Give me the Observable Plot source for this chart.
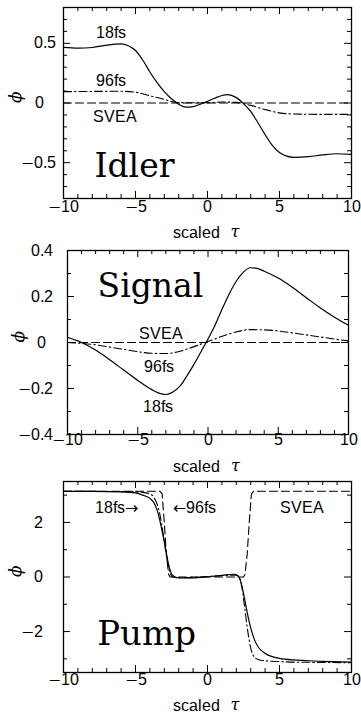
<!DOCTYPE html>
<html><head><meta charset="utf-8">
<script src="https://cdn.jsdelivr.net/npm/d3@7"></script>
<script src="https://cdn.jsdelivr.net/npm/@observablehq/plot@0.6"></script>
<style>
@font-face { font-family: "FigSans"; src: local("DejaVu Sans"), local("DejaVuSans"); unicode-range: U+2190-21FF, U+2212; }
@font-face { font-family: "FigSans"; src: local("Liberation Sans"), local("LiberationSans"), local("LiberationSans-Regular"); unicode-range: U+0000-218F, U+2200-2211, U+2213-FFFF; }
body{margin:0;background:#fff}
#c{width:361px}
#c svg{display:block}
</style>
</head><body><div id="c"></div>
<script>
// ---------- shared axis data ----------
const xTickValues = [-10, -5, 0, 5, 10];
const xTickLabels = ["−10", "−5", "0", "5", "10"];
const xMinorTicks = [-9, -8, -7, -6, -4, -3, -2, -1, 1, 2, 3, 4, 6, 7, 8, 9];
const xMajorTicks = [-5, 0, 5];

// ---------- Idler ----------
const idler18_t   = [-10, -9, -8, -7, -6, -5.5, -5, -4.5, -4, -3.5, -3, -2.5, -2, -1.5, -1, -0.5, 0, 0.5, 1, 1.4, 2, 2.5, 3, 3.5, 4, 4.5, 5, 5.5, 6, 7, 8, 9, 10];
const idler18_phi = [0.466, 0.46, 0.465, 0.485, 0.495, 0.48, 0.44, 0.36, 0.26, 0.17, 0.095, 0.035, -0.01, -0.035, -0.03, -0.01, 0.015, 0.04, 0.063, 0.07, 0.045, -0.005, -0.07, -0.165, -0.265, -0.355, -0.415, -0.445, -0.455, -0.45, -0.435, -0.425, -0.43];
const idler96_t   = [-10, -8, -6, -5, -4, -3, -2.5, -2, -1, 0, 1, 2, 3, 4, 5, 6, 8, 10];
const idler96_phi = [0.095, 0.097, 0.098, 0.09, 0.06, 0.03, 0.012, 0.004, 0.002, 0.003, 0.008, 0.005, -0.02, -0.055, -0.083, -0.092, -0.095, -0.095];
const idlerSvea_t   = [-10, 10];
const idlerSvea_phi = [0, 0];
const idlerYTickValues = [-0.5, 0, 0.5];
const idlerYTickLabels = ["−0.5", "0", "0.5"];
const idlerYMinor = [-0.7, -0.6, -0.4, -0.3, -0.2, -0.1, 0.1, 0.2, 0.3, 0.4, 0.6, 0.7];
const idlerYMajor = [-0.5, 0, 0.5];

// ---------- Signal ----------
const signal18_t   = [-10, -9.5, -9, -8, -7, -6, -5, -4, -3.5, -3, -2.5, -2, -1.5, -1, -0.5, 0, 0.5, 1, 1.5, 2, 2.5, 3, 3.5, 4, 5, 6, 7, 8, 9, 10];
const signal18_phi = [0.023, 0.012, 0.0, -0.033, -0.075, -0.12, -0.165, -0.205, -0.22, -0.226, -0.215, -0.19, -0.145, -0.095, -0.04, 0.015, 0.075, 0.145, 0.21, 0.265, 0.305, 0.325, 0.322, 0.31, 0.28, 0.24, 0.195, 0.15, 0.11, 0.075];
const signal96_t   = [-10, -9, -8, -7, -6, -5, -4, -3, -2, -1, 0, 1, 2, 3, 4, 5, 6, 7, 8, 9, 10];
const signal96_phi = [0.0, -0.004, -0.01, -0.02, -0.03, -0.04, -0.047, -0.048, -0.038, -0.018, 0.004, 0.027, 0.046, 0.056, 0.055, 0.05, 0.042, 0.033, 0.024, 0.015, 0.007];
const signalSvea_t   = [-10, 10];
const signalSvea_phi = [0, 0];
const signalYTickValues = [-0.4, -0.2, 0, 0.2, 0.4];
const signalYTickLabels = ["−0.4", "−0.2", "0", "0.2", "0.4"];
const signalYMinor = [-0.3, -0.1, 0.1, 0.3];
const signalYMajor = [-0.2, 0, 0.2];

// ---------- Pump ----------
const pump18_t   = [-10, -8, -6, -5, -4.5, -4, -3.7, -3.5, -3.3, -3.1, -2.9, -2.7, -2.5, -2.3, -2, -1, 0, 1, 1.8, 2.1, 2.3, 2.5, 2.7, 2.9, 3.1, 3.3, 3.6, 4, 4.5, 5, 6, 7, 8, 10];
const pump18_phi = [3.14, 3.14, 3.12, 3.08, 3.0, 2.88, 2.7, 2.45, 2.05, 1.55, 1.0, 0.45, 0.12, 0.02, -0.03, -0.03, 0.01, 0.06, 0.1, 0.05, -0.15, -0.6, -1.15, -1.65, -2.05, -2.35, -2.62, -2.8, -2.92, -2.98, -3.04, -3.07, -3.09, -3.12];
const pump96_t   = [-10, -6, -4.5, -4, -3.7, -3.4, -3.2, -3.0, -2.8, -2.6, -2.4, -2, 0, 1, 2, 2.2, 2.4, 2.6, 2.8, 3.0, 3.2, 3.5, 4, 5, 6, 8, 10];
const pump96_phi = [3.14, 3.13, 3.1, 3.05, 2.9, 2.5, 2.0, 1.3, 0.6, 0.15, 0.0, -0.03, 0.02, 0.05, 0.07, 0.0, -0.4, -1.2, -2.0, -2.6, -2.9, -3.02, -3.07, -3.1, -3.12, -3.13, -3.14];
const pumpSvea_t   = [-10, -3.3, -3.15, -3.0, -2.85, -2.7, -2.6, 2.5, 2.6, 2.75, 2.9, 3.05, 3.2, 10];
const pumpSvea_phi = [3.14, 3.14, 3.05, 2.0, 0.8, 0.1, 0.0, 0.0, 0.1, 0.8, 2.0, 3.05, 3.14, 3.14];
const pumpYTickValues = [-2, 0, 2];
const pumpYTickLabels = ["−2", "0", "2"];
const pumpYMinor = [-3, -1, 1, 3];
const pumpYMajor = [-2, 0, 2];

const zip = (t, p) => t.map((v, i) => ({t: v, phi: p[i]}));

const SANS = "FigSans, 'Liberation Sans', Arial, Helvetica, sans-serif";
const SERIF = "'DejaVu Serif', serif";
const INK = "#000";

function panel(cfg) {
  const fw = 361 - cfg.ml - cfg.mr;
  const fh = cfg.height - cfg.mt - cfg.mb;
  const minor = 4, major = 7;
  const tickFont = {fontFamily: SANS, fontSize: 16, fill: INK};
  const noteFont = {fontFamily: SANS, fontSize: 16, fill: INK};
  const rows = cfg.yTickValues.map((v, i) => ({v, s: cfg.yTickLabels[i]}));
  const nonZero = rows.filter(d => d.v !== 0);
  const zero = rows.filter(d => d.v === 0);
  const marks = [
    // curves
    Plot.line(zip(cfg.svea[0], cfg.svea[1]), {x: "t", y: "phi", stroke: INK, strokeWidth: 1.1, strokeDasharray: "8,4", curve: "linear"}),
    Plot.line(zip(cfg.s96[0], cfg.s96[1]), {x: "t", y: "phi", stroke: INK, strokeWidth: 1.1, strokeDasharray: "8,3,1.5,3", curve: "monotone-x"}),
    Plot.line(zip(cfg.s18[0], cfg.s18[1]), {x: "t", y: "phi", stroke: INK, strokeWidth: 1.2, curve: "monotone-x"}),
    // frame
    Plot.frame({stroke: INK, strokeWidth: 1.3}),
    // x ticks (bottom & top, inward)
    Plot.ruleX(xMinorTicks, {x: d => d, stroke: INK, insetTop: fh - minor}),
    Plot.ruleX(xMinorTicks, {x: d => d, stroke: INK, insetBottom: fh - minor}),
    Plot.ruleX(xMajorTicks, {x: d => d, stroke: INK, insetTop: fh - major}),
    Plot.ruleX(xMajorTicks, {x: d => d, stroke: INK, insetBottom: fh - major}),
    // y ticks (left & right, inward)
    Plot.ruleY(cfg.yMinor, {y: d => d, stroke: INK, insetRight: fw - minor}),
    Plot.ruleY(cfg.yMinor, {y: d => d, stroke: INK, insetLeft: fw - minor}),
    Plot.ruleY(cfg.yMajor, {y: d => d, stroke: INK, insetRight: fw - major}),
    Plot.ruleY(cfg.yMajor, {y: d => d, stroke: INK, insetLeft: fw - major}),
    // tick labels
    Plot.text(xTickValues, {x: d => d, text: (d, i) => xTickLabels[i], frameAnchor: "bottom", dy: cfg.xLabDy, ...tickFont}),
    Plot.text(nonZero, {y: "v", text: "s", frameAnchor: "left", dx: cfg.yLabDx, textAnchor: "end", ...tickFont}),
    Plot.text(zero, {y: "v", text: "s", frameAnchor: "left", dx: cfg.yZeroDx, textAnchor: "end", ...tickFont}),
    // axis titles
    Plot.text(["scaled"], {frameAnchor: "bottom", dx: 12, dy: cfg.titleDy, textAnchor: "end", ...tickFont}),
    Plot.text(["τ"], {frameAnchor: "bottom", dx: 23, dy: cfg.titleDy - 1, textAnchor: "start", fontFamily: SERIF, fontStyle: "italic", fontSize: 16, fill: INK}),
    Plot.text([0], {y: d => d, text: () => "ϕ", frameAnchor: "left", dx: cfg.phiDx, rotate: -90, fontFamily: SERIF, fontStyle: "italic", fontSize: 17, fill: INK}),
    // curve annotations
    Plot.text(cfg.notes, {x: "x", y: "y", text: "s", lineAnchor: "bottom", ...noteFont, textAnchor: cfg.noteAnchor}),
    Plot.text(cfg.notes2 || [], {x: "x", y: "y", text: "s", lineAnchor: "bottom", ...noteFont, textAnchor: "middle"}),
    // panel name
    Plot.text([cfg.name], {x: cfg.nameX, y: cfg.nameY, text: d => d, textAnchor: "start", lineAnchor: "bottom", fontFamily: SERIF, fontSize: cfg.nameSize, fill: INK})
  ];
  return Plot.plot({
    width: 361, height: cfg.height,
    marginTop: cfg.mt, marginBottom: cfg.mb, marginLeft: cfg.ml, marginRight: cfg.mr,
    x: {domain: [-10, 10], axis: null},
    y: {domain: cfg.yDomain, axis: null},
    style: {background: "#fff", overflow: "visible"},
    marks
  });
}

const panels = [
  {height: 245, mt: 7, mb: 47, ml: 63, mr: 10, yDomain: [-0.8, 0.8],
   s18: [idler18_t, idler18_phi], s96: [idler96_t, idler96_phi], svea: [idlerSvea_t, idlerSvea_phi],
   yTickValues: idlerYTickValues, yTickLabels: idlerYTickLabels, yMinor: idlerYMinor, yMajor: idlerYMajor,
   xLabDy: 13, titleDy: 39, yLabDx: -8, yZeroDx: -20, phiDx: -48,
   noteAnchor: "middle",
   notes: [{x: -6.7, y: 0.541, s: "18fs"}, {x: -6.7, y: 0.14, s: "96fs"}, {x: -6.4, y: -0.16, s: "SVEA"}],
   name: "Idler", nameX: -7.85, nameY: -0.616, nameSize: 33},
  {height: 233, mt: 5, mb: 44, ml: 67, mr: 13, yDomain: [-0.4, 0.4],
   s18: [signal18_t, signal18_phi], s96: [signal96_t, signal96_phi], svea: [signalSvea_t, signalSvea_phi],
   yTickValues: signalYTickValues, yTickLabels: signalYTickLabels, yMinor: signalYMinor, yMajor: signalYMajor,
   xLabDy: 10, titleDy: 37, yLabDx: -15, yZeroDx: -22, phiDx: -49,
   noteAnchor: "middle",
   notes: [{x: -3.38, y: 0.015, s: "SVEA"}, {x: -3.52, y: -0.13, s: "96fs"}, {x: -3.54, y: -0.304, s: "18fs"}],
   name: "Signal", nameX: -7.86, nameY: 0.2, nameSize: 33},
  {height: 241, mt: 3, mb: 47, ml: 63, mr: 10, yDomain: [-3.5, 3.5],
   s18: [pump18_t, pump18_phi], s96: [pump96_t, pump96_phi], svea: [pumpSvea_t, pumpSvea_phi],
   yTickValues: pumpYTickValues, yTickLabels: pumpYTickLabels, yMinor: pumpYMinor, yMajor: pumpYMajor,
   xLabDy: 12, titleDy: 38, yLabDx: -21, yZeroDx: -21, phiDx: -48,
   noteAnchor: "start",
   notes: [{x: -7.83, y: 2.33, s: "18fs→"}, {x: -2.38, y: 2.33, s: "←96fs"}],
   notes2: [{x: 6.57, y: 2.33, s: "SVEA"}],
   name: "Pump", nameX: -7.66, nameY: -2.48, nameSize: 34}
];

const root = document.getElementById("c");
for (const p of panels) root.appendChild(panel(p));
</script>
</body></html>
